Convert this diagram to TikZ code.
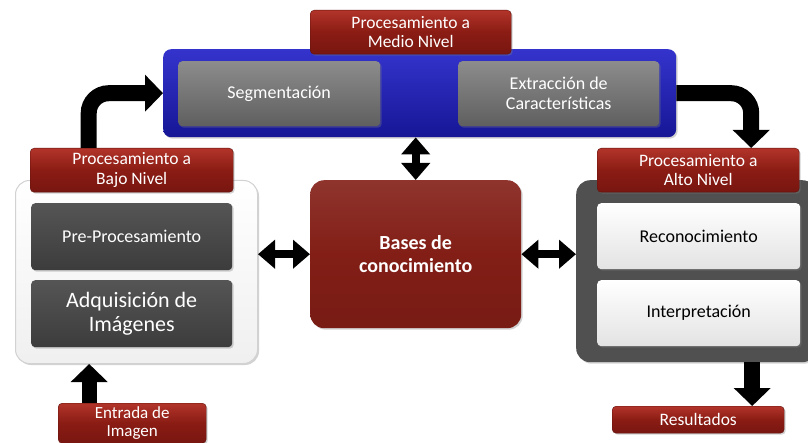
\documentclass[tikz,border=0pt]{standalone}
\usepackage{fontspec}
\setmainfont{Carlito}
\usetikzlibrary{arrows.meta,shadows,calc}
\definecolor{redtop}{RGB}{178,52,42}
\definecolor{redmid}{RGB}{138,28,20}
\definecolor{redbot}{RGB}{120,22,16}
\definecolor{bluetop}{RGB}{52,52,205}
\definecolor{bluebot}{RGB}{22,22,150}
\definecolor{graytop}{RGB}{140,140,140}
\definecolor{graybot}{RGB}{95,95,95}
\definecolor{dgraytop}{RGB}{85,85,85}
\definecolor{dgraybot}{RGB}{60,60,60}
\definecolor{altoc}{RGB}{80,80,80}
\definecolor{basesc}{RGB}{130,30,22}
\tikzset{
  x=1pt, y=-1pt,
  box/.style={rectangle, rounded corners=4pt, inner sep=0pt, align=center, anchor=north west,
    drop shadow={shadow xshift=1.5pt, shadow yshift=-1.5pt, opacity=0.35}},
  lbl/.style={box, top color=redtop, bottom color=redbot, middle color=redmid,
    text=white, font=\fontsize{17.5}{19.5}\selectfont, draw=redbot!80!black, line width=0.4pt},
  graybox/.style={box, top color=graytop, bottom color=graybot, text=white,
    font=\fontsize{18}{20}\selectfont},
  dgraybox/.style={box, top color=dgraytop, bottom color=dgraybot, text=white},
  lightbox/.style={box, top color=white, bottom color=gray!22, text=black,
    font=\fontsize{18}{20}\selectfont},
  bigarrow/.style={line width=16pt, -{Triangle[width=36pt,length=18pt]}, black},
  dblarrow/.style={line width=8pt, {Triangle[width=28pt,length=17pt]}-{Triangle[width=28pt,length=17pt]}, black},
}
\begin{document}
\begin{tikzpicture}
\clip (0,0) rectangle (808,443);
\fill[white] (0,0) rectangle (808,443);
% containers
\node[box, rounded corners=8pt, top color=bluetop, bottom color=bluebot, minimum width=513pt, minimum height=88pt] (blue) at (163,49) {};
\node[box, rounded corners=14pt, top color=white, bottom color=gray!12, draw=gray!35, line width=1pt, minimum width=242pt, minimum height=183pt] (left) at (15,180) {};
\node[box, rounded corners=14pt, fill=altoc, minimum width=240pt, minimum height=182pt] (alto) at (576,180) {};
% inner boxes
\node[graybox, minimum width=202pt, minimum height=65pt] (seg) at (178,61) {Segmentación};
\node[graybox, minimum width=201pt, minimum height=65pt] (ext) at (458,61) {Extracción de\\Características};
\node[dgraybox, font=\fontsize{18}{20}\selectfont, minimum width=201pt, minimum height=67pt] (pre) at (31,203) {Pre-Procesamiento};
\node[dgraybox, font=\fontsize{22}{24}\selectfont, minimum width=201pt, minimum height=67pt] (adq) at (31,280) {Adquisición de\\Imágenes};
\node[box, rounded corners=14pt, top color=basesc!90!white, bottom color=basesc!92!black, middle color=basesc,
  text=white, font=\fontsize{20}{23}\selectfont\bfseries, minimum width=211pt, minimum height=148pt] (bases) at (310,180) {Bases de\\conocimiento};
\node[lightbox, minimum width=203pt, minimum height=66pt] (rec) at (597,203) {Reconocimiento};
\node[lightbox, minimum width=203pt, minimum height=66pt] (int) at (597,280) {Interpretación};
% labels
\node[lbl, minimum width=201pt, minimum height=44pt] (medio) at (310,10) {Procesamiento a\\Medio Nivel};
\node[lbl, minimum width=203pt, minimum height=44pt] (bajo) at (30,148) {Procesamiento a\\Bajo Nivel};
\node[lbl, minimum width=202pt, minimum height=44pt] (altolbl) at (597,148) {Procesamiento a\\Alto Nivel};
\node[lbl, font=\fontsize{17}{18}\selectfont, minimum width=148pt, minimum height=40pt] (entrada) at (58,403) {Entrada de\\Imagen};
\node[lbl, minimum width=172pt, minimum height=27pt] (res) at (612,406) {Resultados};
% arrows
\draw[bigarrow, rounded corners=20pt] ([xshift=-43pt]bajo.north) |- (blue.west);
\draw[bigarrow, rounded corners=20pt] (blue.east) -| ([xshift=53pt]altolbl.north);
\draw[bigarrow, line width=15pt] ([xshift=-43pt]entrada.north) -- ([xshift=-43pt]entrada.north |- left.south);
\draw[bigarrow] ([xshift=54pt]res.north |- alto.south) -- ([xshift=54pt]res.north);
\draw[dblarrow] (bases.north) -- (bases.north |- blue.south);
\draw[dblarrow] (bases.west) -- (bases.west -| left.east);
\draw[dblarrow] (bases.east) -- (bases.east -| alto.west);
\end{tikzpicture}
\end{document}
